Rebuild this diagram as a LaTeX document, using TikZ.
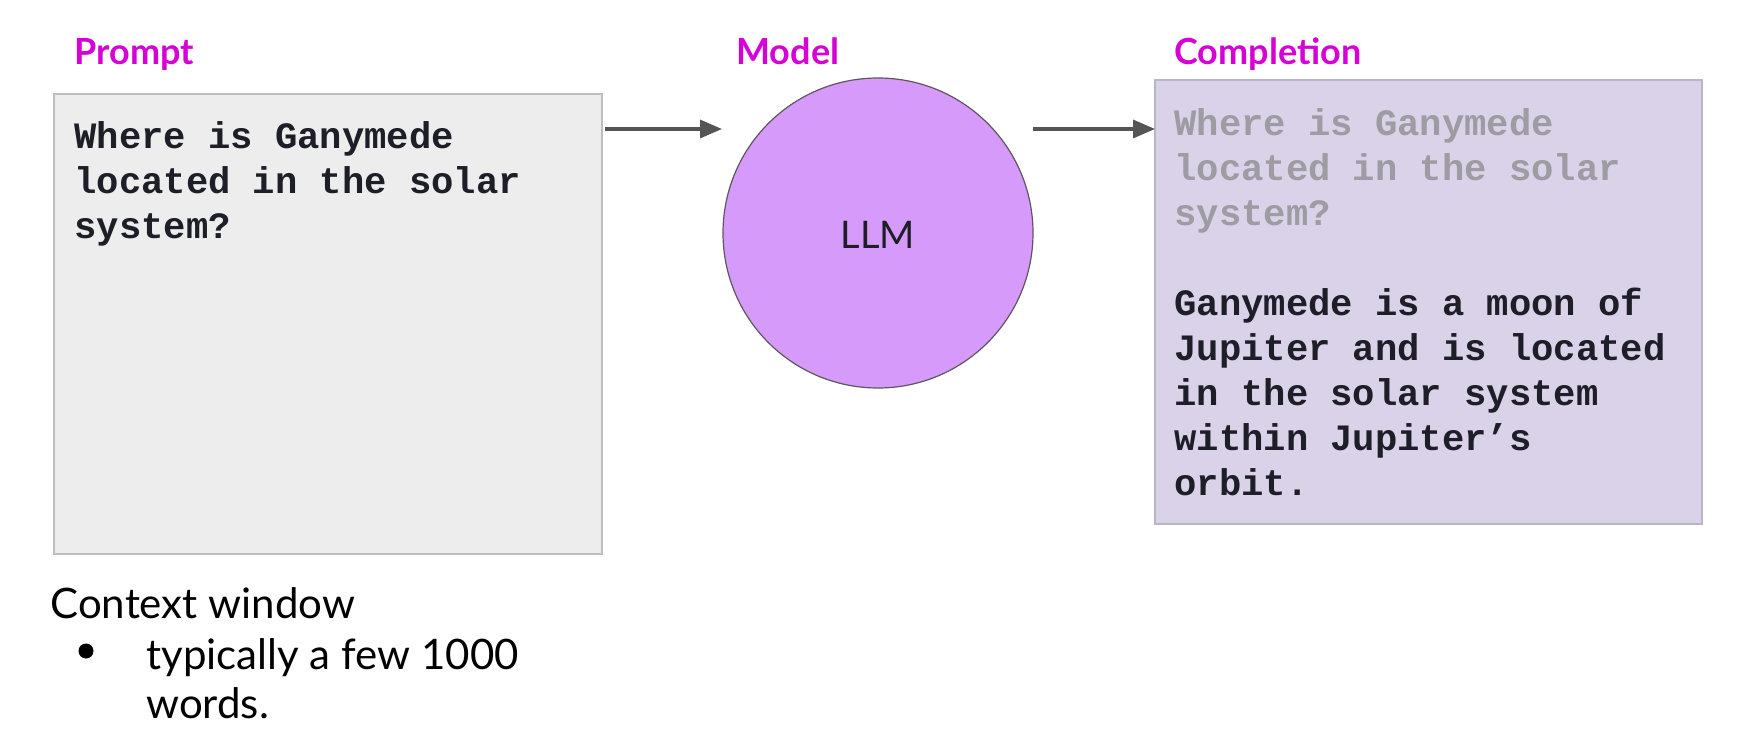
\documentclass[tikz,border=0pt]{standalone}
\usepackage{fontspec}
\setmainfont{Lato}
\newfontfamily\monofont{Liberation Mono}
\usetikzlibrary{arrows.meta}
\definecolor{labelmag}{RGB}{214,0,214}
\definecolor{promptfill}{RGB}{237,237,237}
\definecolor{promptborder}{RGB}{190,190,190}
\definecolor{llmfill}{RGB}{213,154,250}
\definecolor{llmborder}{RGB}{95,85,95}
\definecolor{compfill}{RGB}{217,210,233}
\definecolor{compborder}{RGB}{185,183,192}
\definecolor{graytext}{RGB}{158,156,162}
\definecolor{darktext}{RGB}{30,30,40}
\definecolor{arrowcol}{RGB}{85,85,85}
\tikzset{
  toplabel/.style={anchor=base west, inner sep=0, text=labelmag, font=\fontsize{18}{22}\selectfont\bfseries},
  monotext/.style={anchor=base west, inner sep=0, align=left, font=\monofont\fontsize{18.6}{22.5}\selectfont\bfseries},
  flowarrow/.style={draw=arrowcol, line width=1.7pt, -{Triangle[length=11pt,width=9pt]}},
  bodytext/.style={anchor=base west, inner sep=0, font=\fontsize{21}{25}\selectfont, text=black},
}
\begin{document}
\begin{tikzpicture}[x=0.5pt,y=-0.5pt]
\useasboundingbox[fill=white] (0,0) rectangle (1760,737);
% labels
\node[toplabel] (lprompt) at (74,65) {Prompt};
\node[toplabel] (lmodel) at (736,65) {Model};
\node[toplabel] (lcomp) at (1174,65) {Completion};
% prompt box
\draw[fill=promptfill, draw=promptborder, line width=1pt] (54,94) rectangle (602,554);
\node[monotext, text=darktext] (ptext) at (74,239) {Where is Ganymede\\located in the solar\\system?};
% model
\node[circle, fill=llmfill, draw=llmborder, line width=0.6pt, minimum size=155pt, inner sep=0] (llm) at (878,233) {};
\node[font=\fontsize{19}{22}\selectfont, text=darktext] (llmtext) at (878,235) {LLM};
% completion box
\draw[fill=compfill, draw=compborder, line width=1pt] (1155,80) rectangle (1702,524);
\coordinate (cbW) at (1155,129);
\node[monotext, text=graytext] (cgray) at (1174,226) {Where is Ganymede\\located in the solar\\system?};
\node[monotext, text=darktext] (cblack) at (1174,495) {Ganymede is a moon of\\Jupiter and is located\\in the solar system\\within Jupiter’s\\orbit.};
% arrows
\coordinate (a1s) at (605,129);
\coordinate (a1e) at (722,129);
\coordinate (a2s) at (1033,129);
\draw[flowarrow] (a1s) -- (a1e);
\draw[flowarrow] (a2s) -- (cbW);
% context window
\node[bodytext] (ctx) at (50,618) {Context window};
\node[circle, fill=black, inner sep=0, minimum size=7.5pt] (bul) at (86,651) {};
\node[bodytext] (bl1) at (146,669) {typically a few 1000};
\node[bodytext] (bl2) at (146,718) {words.};
\end{tikzpicture}
\end{document}
